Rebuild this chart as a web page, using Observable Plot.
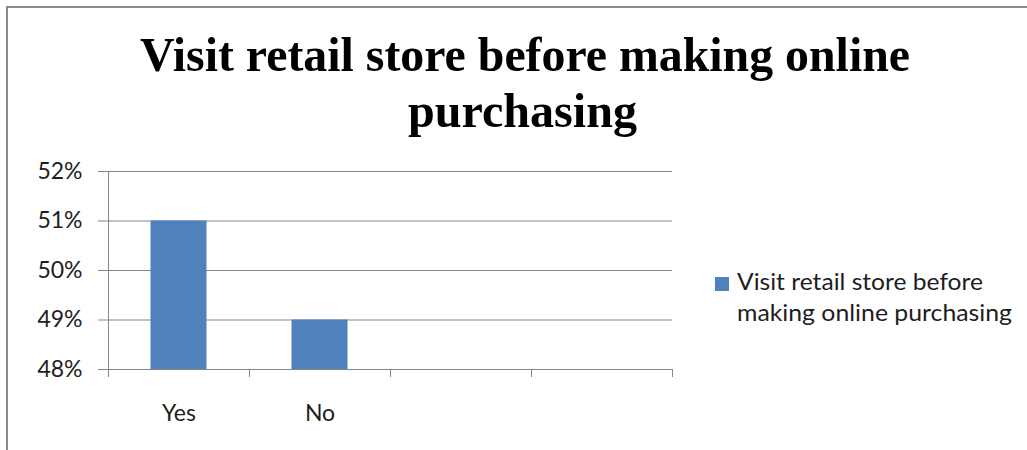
<!DOCTYPE html>
<html><head><meta charset="utf-8">
<script src="https://cdn.jsdelivr.net/npm/d3@7"></script>
<script src="https://cdn.jsdelivr.net/npm/@observablehq/plot@0.6"></script>
<style>
body{margin:0;background:#fff;}
#wrap{position:relative;width:1027px;height:450px;overflow:hidden;background:#fff;}
#frame{position:absolute;left:6px;top:6px;width:1100px;height:500px;border-top:2px solid #8a8a8a;border-left:2px solid #8a8a8a;pointer-events:none;}
#title{display:block;}
#chart svg{display:block;}
#legend{position:absolute;left:700px;top:260px;}
</style></head><body>
<div id="wrap">
<svg id="title" width="1027" height="150"></svg>
<div id="chart"></div>
<svg id="legend" width="327" height="90"></svg>
<div id="frame"></div>
</div>
<script>
const titleLines = ["Visit retail store before making online", "purchasing"];
const categories = ["Yes", "No", "", ""];
const values = [0.51, 0.49, null, null];
const yTicks = [0.48, 0.49, 0.50, 0.51, 0.52];
const legendLines = ["Visit retail store before", "making online purchasing"];

const barColor = "#4f81bd";
const lineColor = "#868686";
const textColor = "#1e1e1e";

// Title
const tsvg = d3.select("#title");
const titleLayout = [{x: 140, y: 71, len: 770}, {x: 408, y: 127, len: 229}];
titleLines.forEach((t, i) => {
  tsvg.append("text")
    .attr("x", titleLayout[i].x).attr("y", titleLayout[i].y)
    .attr("textLength", titleLayout[i].len).attr("lengthAdjust", "spacingAndGlyphs")
    .attr("font-family", "'Liberation Serif', 'Times New Roman', serif")
    .attr("font-weight", "bold").attr("font-size", 49).attr("fill", "#000")
    .text(t);
});

// Chart
const data = categories.map((c, i) => ({cat: c, i, value: values[i]})).filter(d => d.value != null);
const chart = Plot.plot({
  width: 1027, height: 300,
  marginTop: 21, marginBottom: 81, marginLeft: 108, marginRight: 355,
  style: {fontFamily: "Lato, 'Open Sans', sans-serif", fontSize: "23px", color: textColor, background: "transparent"},
  x: {type: "linear", domain: [0, categories.length]},
  y: {domain: [yTicks[0], yTicks[yTicks.length - 1]]},
  marks: [
    Plot.gridY(yTicks, {stroke: lineColor, strokeOpacity: 1}),
    Plot.rectY(data, {x1: "i", x2: d => d.i + 1, y1: yTicks[0], y2: "value", insetLeft: 42.5, insetRight: 42.5, fill: barColor}),
    Plot.ruleX([0], {y1: yTicks[0], y2: yTicks[yTicks.length - 1], stroke: lineColor}),
    Plot.ruleY([yTicks[0]], {stroke: lineColor}),
    Plot.axisY(yTicks, {tickFormat: d3.format(".0%"), tickSize: 10, tickPadding: 16, stroke: lineColor, fill: textColor, label: null}),
    Plot.axisX(d3.range(categories.length + 1), {tickSize: 8, tickFormat: () => "", stroke: lineColor, label: null}),
    Plot.axisX(categories.map((c, i) => i + 0.5), {tickSize: 0, tickPadding: 35, tickFormat: v => categories[Math.floor(v)], fill: textColor, label: null})
  ]
});
document.getElementById("chart").appendChild(chart);

// Legend
const lsvg = d3.select("#legend");
const legendLens = [246, 275];
lsvg.append("rect").attr("x", 15).attr("y", 17).attr("width", 14).attr("height", 14).attr("fill", barColor);
legendLines.forEach((t, i) => {
  lsvg.append("text").attr("x", 37).attr("y", 30 + i * 31)
    .attr("textLength", legendLens[i]).attr("lengthAdjust", "spacingAndGlyphs")
    .attr("font-family", "Lato, 'Open Sans', sans-serif").attr("font-size", 23).attr("fill", textColor)
    .text(t);
});
</script>
</body></html>
